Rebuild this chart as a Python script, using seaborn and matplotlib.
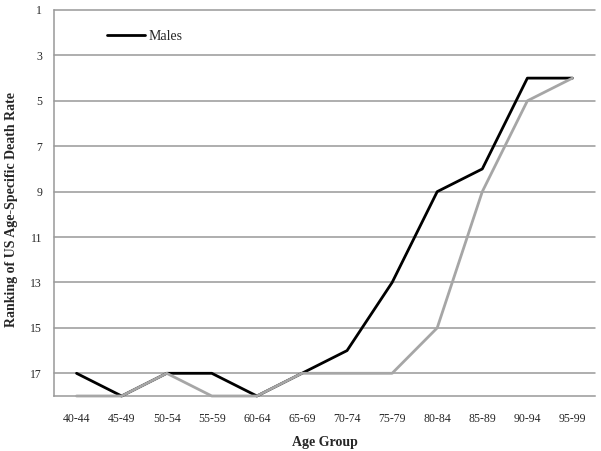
import matplotlib
matplotlib.use("Agg")
import matplotlib.pyplot as plt
import seaborn as sns
import pandas as pd
import numpy as np

age_groups = ["40-44", "45-49", "50-54", "55-59", "60-64", "65-69",
              "70-74", "75-79", "80-84", "85-89", "90-94", "95-99"]
males = [17, 18, 17, 17, 18, 17, 16, 13, 9, 8, 4, 4]
females = [18, 18, 17, 18, 18, 17, 17, 17, 15, 9, 5, 4]
y_ticks = [1, 3, 5, 7, 9, 11, 13, 15, 17]

sns.set_style("white")
plt.rcParams['font.family'] = ['Liberation Serif', 'DejaVu Serif']

df = pd.DataFrame({"Age Group": age_groups, "Males": males, "Females": females})

fig = plt.figure(figsize=(6.01, 4.51), dpi=100)
ax = fig.add_axes([54/601, 1-396/451, (595-54)/601, (396-10)/451])

grid_c = "#999999"
for t in y_ticks:
    ax.axhline(t, color=grid_c, lw=1.1, zorder=0)

sns.lineplot(data=df, x="Age Group", y="Males", ax=ax, color="black",
             lw=2.0, label="Males", sort=False, zorder=3)
sns.lineplot(data=df, x="Age Group", y="Females", ax=ax, color="#a6a6a6",
             lw=2.0, sort=False, zorder=4, legend=False)
for ln in ax.lines:
    ln.set_clip_on(False)

ax.set_xlim(-0.5, len(age_groups) - 0.5)
ax.set_ylim(18, 1)
ax.set_yticks(y_ticks)
ax.set_yticklabels([str(t) for t in y_ticks], fontsize=8.5)
ax.set_xticks(range(len(age_groups)))
ax.set_xticklabels(age_groups, fontsize=8.5)
ax.set_xticks(np.arange(-0.5, len(age_groups)), minor=True)
ax.tick_params(axis="x", which="major", length=0, pad=12)
ax.tick_params(axis="x", which="minor", length=4, color=grid_c, width=1)
ax.tick_params(axis="y", which="major", length=2.5, color=grid_c, width=1, pad=6)

for s in ["top", "right"]:
    ax.spines[s].set_visible(False)
for s in ["left", "bottom"]:
    ax.spines[s].set_color(grid_c)
    ax.spines[s].set_linewidth(1.1)

ax.set_xlabel("Age Group", fontsize=10, fontweight="bold", labelpad=8)
ax.set_ylabel("Ranking of US Age-Specific Death Rate", fontsize=10,
              fontweight="bold")
ax.yaxis.set_label_coords(-0.066, 0.482)

leg = ax.legend(loc="upper left", bbox_to_anchor=(0.075, 0.98), frameon=False,
                fontsize=10, handlelength=2.7, handletextpad=0.3)

fig.savefig("out.png", dpi=100)
